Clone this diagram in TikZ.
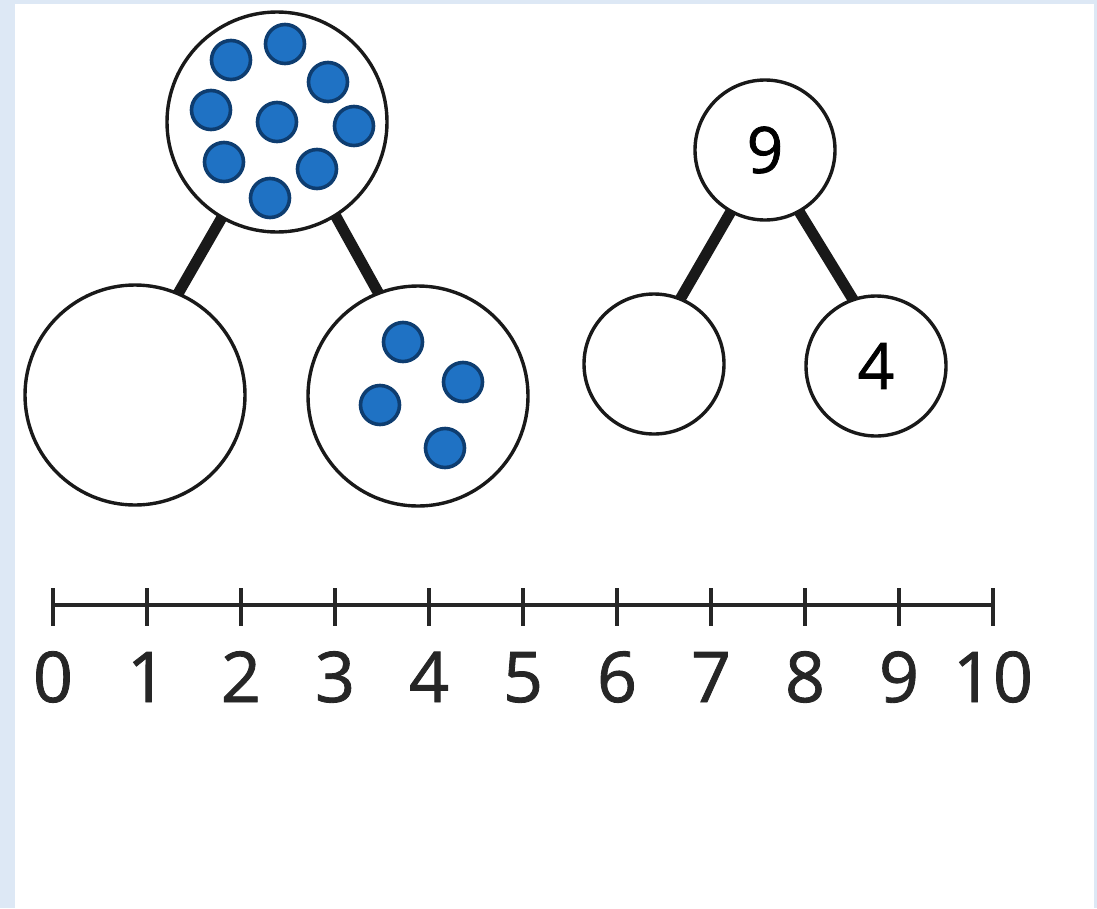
\documentclass[tikz,border=0pt]{standalone}
\usepackage{fontspec}
\setmainfont[FakeBold=1.2]{Open Sans}
\definecolor{bgblue}{HTML}{DDE8F5}
\definecolor{dotblue}{HTML}{1F72C4}
\definecolor{dotedge}{HTML}{0E3D70}
\begin{document}
\begin{tikzpicture}[x=1pt,y=-1pt,
  ring/.style={circle,draw=black!90,line width=3.4pt,fill=white,inner sep=0pt,outer sep=0pt},
  bigring/.style={ring,minimum size=220pt},
  smallring/.style={ring,minimum size=140pt,font=\fontsize{64}{72}\selectfont},
  counter/.style={circle,draw=dotedge,line width=3.6pt,fill=dotblue,minimum size=39pt,inner sep=0pt},
  bond/.style={line width=11pt,draw=black!90},
  tickline/.style={line width=3.4pt,draw=black!85},
  numlabel/.style={anchor=base,font=\fontsize{70}{80}\selectfont,text=black!85,inner sep=0pt}]
\fill[bgblue] (0,0) rectangle (1097,908);
\fill[white] (15,4) rectangle (1094,908);
\useasboundingbox (0,0) rectangle (1097,908);

% left part-whole model
\node[bigring] (w) at (277,122) {};
\node[bigring] (a) at (135,395) {};
\node[bigring] (b) at (418,396) {};
\draw[bond] (w.240) -- (a.67);
\draw[bond] (w.302) -- (b.111);

\node[counter] (d1) at (231,60) {};
\node[counter] (d2) at (285,44) {};
\node[counter] (d3) at (328,82) {};
\node[counter] (d4) at (211,110) {};
\node[counter] (d5) at (277,122) {};
\node[counter] (d6) at (354,126) {};
\node[counter] (d7) at (224,162) {};
\node[counter] (d8) at (317,169) {};
\node[counter] (d9) at (270,198) {};

\node[counter] (e1) at (403,342) {};
\node[counter] (e2) at (463,382) {};
\node[counter] (e3) at (380,405) {};
\node[counter] (e4) at (445,448) {};

% right part-whole model
\node[smallring] (t) at (765,150) {9};
\node[smallring] (l) at (654,364) {};
\node[smallring] (r) at (876,366) {4};
\draw[bond] (t.241) -- (l.68);
\draw[bond] (t.299) -- (r.109);

% number line
\foreach \i in {0,...,10} {
  \coordinate (n\i) at ({53+94*\i},605);
  \coordinate (nt\i) at ({53+94*\i},588);
  \coordinate (nb\i) at ({53+94*\i},626);
  \draw[tickline] (nt\i) -- (nb\i);
  \node[numlabel] (lab\i) at ({53+94*\i},702) {\i};
}
\draw[tickline] (n0) -- (n10);
\end{tikzpicture}
\end{document}
